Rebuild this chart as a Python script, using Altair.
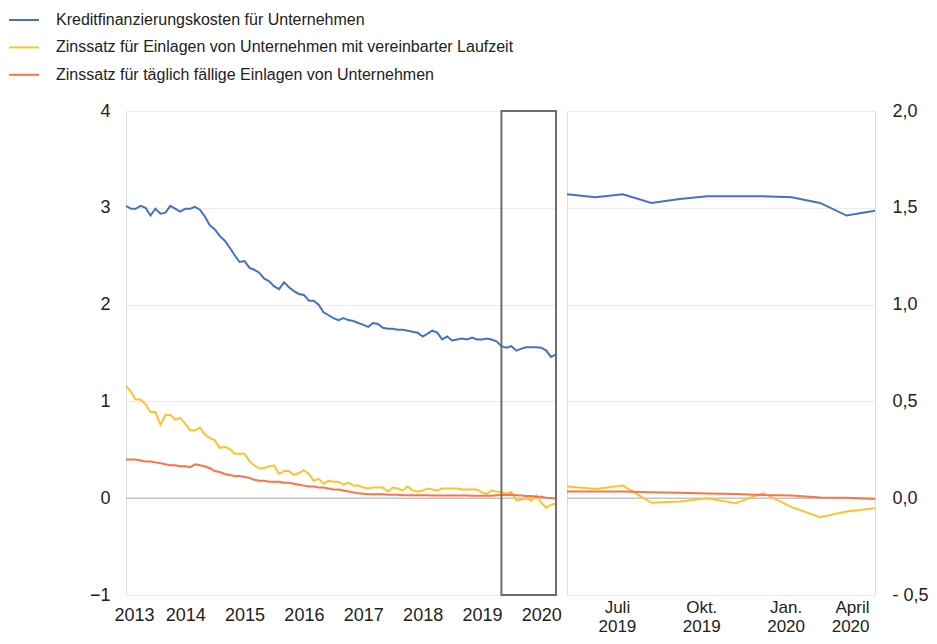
import altair as alt
import pandas as pd

FONT = "Liberation Sans"

series_names = [
    "Kreditfinanzierungskosten für Unternehmen",
    "Zinssatz für Einlagen von Unternehmen mit vereinbarter Laufzeit",
    "Zinssatz für täglich fällige Einlagen von Unternehmen",
]
series_colors = ["#4472c4", "#ffc22e", "#ff7246"]

# monthly observations Jan 2013 - Apr 2020
months = pd.date_range("2013-01-01", periods=88, freq="MS").strftime("%Y-%m-%dT00:00:00").tolist()

blue = [3.02, 2.99, 2.99, 3.02, 3.00, 2.92, 2.99, 2.94, 2.95, 3.02, 2.99, 2.96,
        2.99, 2.99, 3.01, 2.98, 2.91, 2.82, 2.78, 2.71, 2.66, 2.59, 2.51, 2.44,
        2.45, 2.38, 2.36, 2.33, 2.27, 2.24, 2.19, 2.16, 2.23, 2.18, 2.14, 2.11,
        2.10, 2.04, 2.04, 2.00, 1.92, 1.89, 1.86, 1.84, 1.86, 1.84, 1.83, 1.81,
        1.79, 1.77, 1.81, 1.80, 1.76, 1.75, 1.75, 1.74, 1.74, 1.73, 1.72, 1.71,
        1.67, 1.70, 1.73, 1.71, 1.64, 1.67, 1.63, 1.64, 1.65, 1.64, 1.66, 1.64,
        1.64, 1.65, 1.64, 1.62,
        1.57, 1.555, 1.57, 1.525, 1.545, 1.56, 1.56, 1.56, 1.555, 1.525, 1.46, 1.485]

yellow = [1.16, 1.10, 1.02, 1.02, 0.97, 0.89, 0.89, 0.76, 0.86, 0.86, 0.81, 0.83,
          0.77, 0.70, 0.70, 0.73, 0.66, 0.62, 0.60, 0.52, 0.53, 0.51, 0.46, 0.46,
          0.46, 0.38, 0.34, 0.31, 0.31, 0.33, 0.34, 0.25, 0.28, 0.28, 0.24, 0.26,
          0.29, 0.25, 0.18, 0.20, 0.15, 0.18, 0.17, 0.17, 0.14, 0.16, 0.13, 0.13,
          0.11, 0.10, 0.11, 0.11, 0.11, 0.07, 0.11, 0.10, 0.08, 0.12, 0.08, 0.07,
          0.08, 0.10, 0.09, 0.08, 0.10, 0.10, 0.10, 0.10, 0.09, 0.09, 0.09, 0.09,
          0.06, 0.045, 0.08, 0.07,
          0.06, 0.048, 0.065, -0.024, -0.017, 0.0, -0.026, 0.027, -0.046, -0.098, -0.069, -0.052]

red = [0.40, 0.40, 0.40, 0.39, 0.38, 0.38, 0.37, 0.36, 0.35, 0.34, 0.34, 0.33,
       0.33, 0.32, 0.35, 0.34, 0.33, 0.31, 0.28, 0.27, 0.25, 0.24, 0.23, 0.23,
       0.22, 0.21, 0.19, 0.18, 0.18, 0.17, 0.17, 0.17, 0.16, 0.16, 0.15, 0.14,
       0.13, 0.12, 0.12, 0.11, 0.11, 0.10, 0.09, 0.09, 0.08, 0.07, 0.06, 0.05,
       0.045, 0.04, 0.04, 0.04, 0.04, 0.035, 0.035, 0.035, 0.03, 0.03, 0.03, 0.03,
       0.03, 0.03, 0.028, 0.028, 0.028, 0.028, 0.027, 0.027, 0.027, 0.027, 0.026, 0.026,
       0.026, 0.026, 0.025, 0.03,
       0.034, 0.034, 0.034, 0.031, 0.028, 0.024, 0.022, 0.016, 0.014, 0.004, 0.002, -0.004]

# zoomed window: last 12 months (May 2019 - Apr 2020)
zoom_months = months[-12:]
blue_zoom = blue[-12:]
yellow_zoom = yellow[-12:]
red_zoom = red[-12:]

left_years = list(range(2013, 2021))
left_ticks = [-1, 0, 1, 2, 3, 4]
right_ticks = [-0.5, 0.0, 0.5, 1.0, 1.5, 2.0]


def long_df(dates, value_lists):
    rows = []
    for name, vals in zip(series_names, value_lists):
        for d, v in zip(dates, vals):
            rows.append({"date": d, "series": name, "value": v})
    return pd.DataFrame(rows)


df_full = long_df(months, [blue, yellow, red])
df_zoom = long_df(zoom_months, [blue_zoom, yellow_zoom, red_zoom])
df_box = pd.DataFrame({"start": [zoom_months[0]], "end": [zoom_months[-1]],
                       "top": [left_ticks[-1]], "bottom": [left_ticks[0]]})
df_zero = pd.DataFrame({"y": [0]})

color_scale = alt.Scale(domain=series_names, range=series_colors)

PLOT_H = 484

# ---------------- left panel ----------------
lx = alt.X("date:T", title=None, scale=alt.Scale(nice=False),
           axis=alt.Axis(values=[alt.DateTime(year=y, month=1, date=1) for y in left_years],
                         format="%Y", tickSize=0, domain=False, grid=False,
                         labelFontSize=18, labelFont=FONT, labelColor="#222",
                         labelPadding=11, labelFlush=True, labelFlushOffset=12))
ly = alt.Y("value:Q", title=None, scale=alt.Scale(domain=[-1, 4], nice=False, zero=False),
           axis=alt.Axis(values=left_ticks, format="d", tickSize=0, domain=False, grid=True,
                         gridColor="#ebebeb", labelFontSize=18, labelFont=FONT,
                         labelColor="#222", labelPadding=16))

left_zero = alt.Chart(df_zero).mark_rule(color="#c4c4c4", strokeWidth=1.5).encode(y="y:Q")
left_lines = alt.Chart(df_full).mark_line(strokeWidth=2).encode(
    x=lx, y=ly,
    color=alt.Color("series:N", scale=color_scale, sort=series_names,
                    legend=alt.Legend(orient="none", legendX=-118, legendY=-107, title=None,
                                      direction="vertical", symbolType="stroke",
                                      symbolSize=900, symbolStrokeWidth=2,
                                      labelFontSize=16, labelFont=FONT, labelColor="#222",
                                      labelLimit=700, labelOffset=16, rowPadding=3.4,
                                      padding=0)),
    order=alt.Order("date:T"),
)
left_box = alt.Chart(df_box).mark_rect(fillOpacity=0, stroke="#6e6e6e", strokeWidth=2).encode(
    x="start:T", x2="end:T", y="top:Q", y2="bottom:Q")

left = alt.layer(left_zero, left_lines, left_box).properties(width=430, height=PLOT_H)

# ---------------- right panel ----------------
rx = alt.X("date:T", title=None, scale=alt.Scale(nice=False),
           axis=alt.Axis(values=[alt.DateTime(year=2019, month=7, date=1),
                                 alt.DateTime(year=2019, month=10, date=1),
                                 alt.DateTime(year=2020, month=1, date=1),
                                 alt.DateTime(year=2020, month=4, date=1)],
                         labelExpr="[month(datum.value) == 6 ? 'Juli' : month(datum.value) == 9 ? 'Okt.' : month(datum.value) == 0 ? 'Jan.' : 'April', '' + year(datum.value)]",
                         tickSize=0, domain=False, grid=False, labelFontSize=17,
                         labelFont=FONT, labelColor="#222", labelPadding=4,
                         labelLineHeight=19, labelBaseline="top", labelOffset=-6))
ry = alt.Y("value:Q", title=None, scale=alt.Scale(domain=[-0.5, 2.0], nice=False, zero=False),
           axis=alt.Axis(orient="right", values=right_ticks, tickSize=0, domain=False,
                         grid=True, gridColor="#ebebeb", labelFontSize=18, labelFont=FONT,
                         labelColor="#222", labelPadding=17,
                         labelExpr="datum.value < 0 ? '- ' + replace(format(-datum.value, '.1f'), '.', ',') : replace(format(datum.value, '.1f'), '.', ',')"))

right_zero = alt.Chart(df_zero).mark_rule(color="#c4c4c4", strokeWidth=1.5).encode(y="y:Q")
right_lines = alt.Chart(df_zoom).mark_line(strokeWidth=2).encode(
    x=rx, y=ry,
    color=alt.Color("series:N", scale=color_scale, sort=series_names, legend=None),
    order=alt.Order("date:T"),
)
right = alt.layer(right_zero, right_lines).properties(width=308, height=PLOT_H)

chart = (
    alt.hconcat(left, right, spacing=0)
    .resolve_legend(color="independent")
    .resolve_scale(x="independent", y="independent")
    .properties(padding={"left": -1, "top": -5, "right": 0, "bottom": 0})
    .configure_view(stroke="#e3e3e3", strokeWidth=1)
    .configure(background="white")
)

chart.save("out.html", embed_options={"renderer": "svg", "actions": False})
